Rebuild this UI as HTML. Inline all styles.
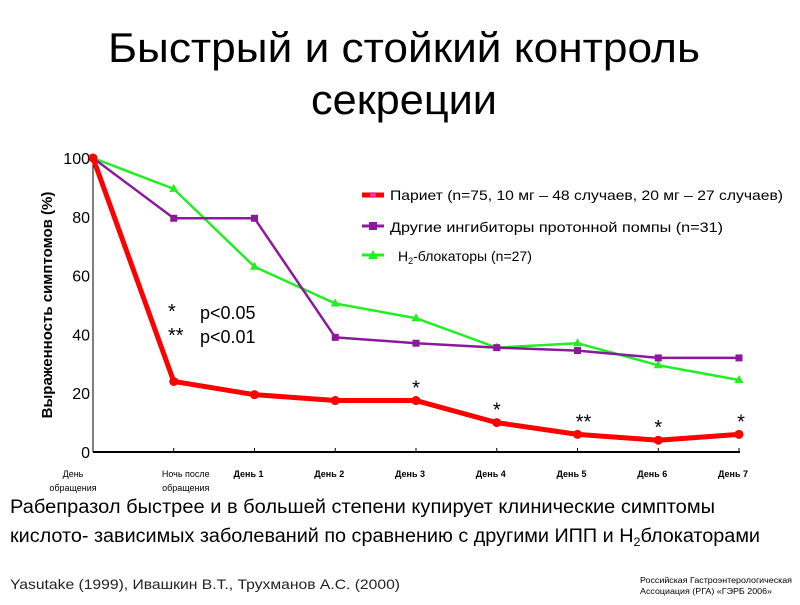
<!DOCTYPE html>
<html><head><meta charset="utf-8"><style>
body{margin:0;background:#fff;width:800px;height:600px;overflow:hidden;font-family:"Liberation Sans","DejaVu Sans",sans-serif}
</style></head><body>
<svg width="800" height="600" viewBox="0 0 800 600" xmlns="http://www.w3.org/2000/svg" font-family="Liberation Sans, DejaVu Sans, sans-serif">
<text x="108" y="62" font-size="42" textLength="592" lengthAdjust="spacingAndGlyphs">Быстрый и стойкий контроль</text>
<text x="311" y="114" font-size="42" textLength="186" lengthAdjust="spacingAndGlyphs">секреции</text>
<text transform="translate(52,305) rotate(-90)" font-size="15" font-weight="bold" text-anchor="middle">Выраженность симптомов (%)</text>
<g id="axes"></g>
<g id="marks"></g>
<text x="168" y="318" font-size="20">*</text>
<text x="200" y="319" font-size="18">p&lt;0.05</text>
<text x="168" y="342" font-size="20">**</text>
<text x="200" y="343" font-size="18">p&lt;0.01</text>
<g>
<line x1="362" y1="195" x2="384" y2="195" stroke="#ff0000" stroke-width="5"/><circle cx="373" cy="195" r="3" fill="#ff33aa"/>
<text x="390" y="200" font-size="14" textLength="393" lengthAdjust="spacingAndGlyphs">Париет (n=75, 10 мг – 48 случаев, 20 мг – 27 случаев)</text>
<line x1="362" y1="226" x2="384" y2="226" stroke="#8b1a9b" stroke-width="3"/><rect x="369" y="222" width="8" height="8" fill="#8b1a9b"/>
<text x="390" y="232" font-size="14" textLength="333" lengthAdjust="spacingAndGlyphs">Другие ингибиторы протонной помпы (n=31)</text>
<line x1="362" y1="255" x2="384" y2="255" stroke="#22ee22" stroke-width="3"/><polygon points="373,250 378,259 368,259" fill="#22ee22"/>
<text x="398" y="261" font-size="14">H<tspan font-size="9" dy="3">2</tspan><tspan dy="-3">-блокаторы (n=27)</tspan></text>
</g>
<text x="10" y="513" font-size="19" textLength="705" lengthAdjust="spacingAndGlyphs">Рабепразол быстрее и в большей степени купирует клинические  симптомы</text>
<text x="10" y="542" font-size="19" textLength="750" lengthAdjust="spacingAndGlyphs">кислото- зависимых  заболеваний  по сравнению  с другими  ИПП  и H<tspan font-size="12" dy="4">2</tspan><tspan dy="-4">блокаторами</tspan></text>
<text x="10" y="589" font-size="14" fill="#222" textLength="390" lengthAdjust="spacingAndGlyphs">Yasutake  (1999), Ивашкин В.Т., Трухманов А.С. (2000)</text>
<text x="640" y="583" font-size="8.5" textLength="152" lengthAdjust="spacingAndGlyphs">Российская Гастроэнтерологическая</text>
<text x="640" y="594" font-size="8.5" textLength="132" lengthAdjust="spacingAndGlyphs">Ассоциация (РГА) «ГЭРБ 2006»</text>
</svg>
<script>
const categories=["День обращения","Ночь после обращения","День 1","День 2","День 3","День 4","День 5","День 6","День 7"];
const pariet=[100,24,19.5,17.5,17.5,10,6,4,6];
const otherPPI=[100,79.5,79.5,39,37,35.5,34.5,32,32];
const h2=[100,89.5,63,50.5,45.5,35.5,37,29.5,24.5];
const yTicks=[0,20,40,60,80,100];
const stars=["","","","","*","*","**","*","*"];
const NS="http://www.w3.org/2000/svg";
const x=i=>93+i*80.75, y=v=>452-v*2.94;
const axes=document.getElementById('axes'), marks=document.getElementById('marks');
function mk(t,a,p){const e=document.createElementNS(NS,t);for(const k in a)e.setAttribute(k,a[k]);p.appendChild(e);return e;}
let e=mk('line',{x1:93,y1:y(0),x2:740,y2:y(0),stroke:'#000','stroke-width':2},axes);


e=mk('line',{x1:93,y1:y(0),x2:93,y2:y(100),stroke:'#000','stroke-width':1},axes);


yTicks.forEach(t=>{const tx=mk('text',{x:90,y:y(t)+6,'font-size':16,'text-anchor':'end'},axes);tx.textContent=t;

});
categories.forEach((c,i)=>{mk('line',{x1:x(i),y1:y(0),x2:x(i),y2:y(0)-4,stroke:'#000'},axes);
const w=c.split(' ');const bold=c.startsWith('День ')&&i>1;
const tx=mk('text',{x:i==0?x(i)-20:(i==1?x(i)+12:x(i)-6),y:477,'font-size':9,'text-anchor':'middle','font-weight':bold?'bold':'normal'},axes);


if(bold){tx.textContent=c;}else{const l1=i==0?'День':'Ночь после',l2='обращения';
const a=mk('tspan',{x:tx.getAttribute('x'),dy:0},tx);a.textContent=l1;const b=mk('tspan',{x:tx.getAttribute('x'),dy:14},tx);b.textContent=l2;}});
function series(vals,color,w,name,marker){
const pl=mk('polyline',{points:vals.map((v,i)=>x(i)+','+y(v)).join(' '),fill:'none',stroke:color,'stroke-width':w,'stroke-linejoin':'round'},marks);


vals.forEach((v,i)=>{let m;const cx=x(i),cy=y(v);
if(marker=='c')m=mk('circle',{cx:cx,cy:cy,r:4.5,fill:color},marks);
else if(marker=='s')m=mk('rect',{x:cx-3.5,y:cy-3.5,width:7,height:7,fill:color},marks);
else m=mk('polygon',{points:`${cx},${cy-5} ${cx+4.5},${cy+3} ${cx-4.5},${cy+3}`,fill:color},marks);

});}
series(h2,'#22ee22',2.5,'h2-blockers','t');
series(otherPPI,'#8b1a9b',2.5,'other-ppi','s');
series(pariet,'#ff0000',5,'pariet','c');
stars.forEach((s,i)=>{if(!s)return;const tx=mk('text',{x:x(i)+(i==6?6:(i==8?2:0)),y:y(pariet[i])-(i==4?6:6),'font-size':20,'text-anchor':'middle'},marks);tx.textContent=s;

});
</script>
</body></html>
